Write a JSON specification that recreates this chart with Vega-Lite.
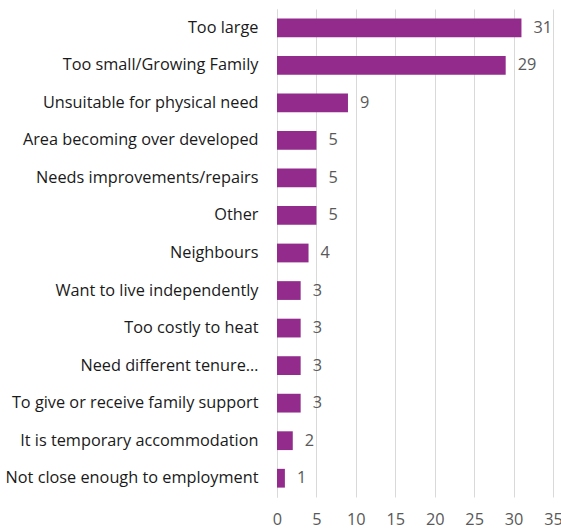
{
  "$schema": "https://vega.github.io/schema/vega-lite/v6.json",
  "width": 276,
  "height": 488,
  "autosize": "none",
  "padding": {"left": 277, "top": 9, "right": 8, "bottom": 34},
  "background": "white",
  "config": {"view": {"stroke": null}, "font": "Open Sans"},
  "data": {"values": [
    {"reason": "Too large", "count": 31},
    {"reason": "Too small/Growing Family", "count": 29},
    {"reason": "Unsuitable for physical need", "count": 9},
    {"reason": "Area becoming over developed", "count": 5},
    {"reason": "Needs improvements/repairs", "count": 5},
    {"reason": "Other ", "count": 5},
    {"reason": "Neighbours", "count": 4},
    {"reason": "Want to live independently", "count": 3},
    {"reason": "Too costly to heat", "count": 3},
    {"reason": "Need different tenure…", "count": 3},
    {"reason": "To give or receive family support", "count": 3},
    {"reason": "It is temporary accommodation", "count": 2},
    {"reason": "Not close enough to employment", "count": 1}
  ]},
  "encoding": {
    "y": {"field": "reason", "type": "nominal", "sort": null, "title": null,
      "scale": {"paddingInner": 0.5, "paddingOuter": 0.25},
      "axis": {"domainColor": "#d9d9d9", "ticks": false, "labelPadding": 19, "labelFontSize": 16.3, "labelColor": "#1a1a1a", "labelLimit": 300}},
    "x": {"field": "count", "type": "quantitative", "title": null,
      "scale": {"domain": [0, 35], "nice": false},
      "axis": {"values": [0,5,10,15,20,25,30,35], "domain": false, "ticks": false, "gridColor": "#d9d9d9", "labelPadding": 14, "labelFontSize": 16.3, "labelColor": "#595959", "labelFlush": false}}
  },
  "layer": [
    {"mark": {"type": "bar", "color": "#922B8C"}},
    {"mark": {"type": "text", "align": "left", "dx": 12, "fontSize": 16.3, "color": "#595959"},
     "encoding": {"text": {"field": "count"}}}
  ]
}
